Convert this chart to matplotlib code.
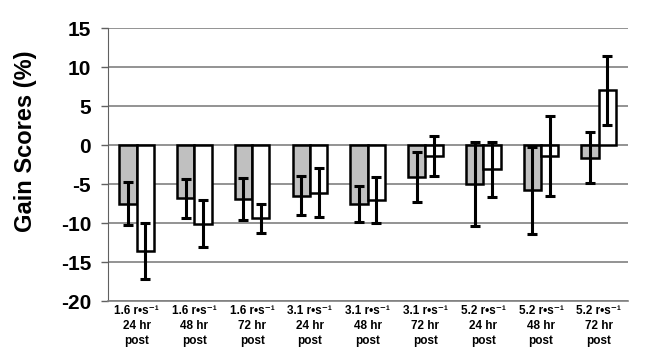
import numpy as np
import matplotlib
matplotlib.use('Agg')
import matplotlib.pyplot as plt

plt.rcParams['font.family'] = ['Liberation Sans', 'DejaVu Sans']
plt.rcParams['axes.unicode_minus'] = False

# Data
speeds = ['1.6', '1.6', '1.6', '3.1', '3.1', '3.1', '5.2', '5.2', '5.2']
times = ['24 hr', '48 hr', '72 hr', '24 hr', '48 hr', '72 hr', '24 hr', '48 hr', '72 hr']
gray_vals = [-7.5, -6.8, -6.9, -6.5, -7.6, -4.1, -5.0, -5.8, -1.6]
gray_err = [2.8, 2.5, 2.65, 2.5, 2.3, 3.25, 5.4, 5.6, 3.3]
white_vals = [-13.6, -10.1, -9.4, -6.1, -7.05, -1.4, -3.1, -1.4, 7.0]
white_err = [3.6, 3.0, 1.9, 3.1, 3.0, 2.6, 3.5, 5.1, 4.4]

labels = [s + ' r•s\u207b\u00b9\n' + t + '\npost' for s, t in zip(speeds, times)]

fig = plt.figure(figsize=(6.49, 3.62), dpi=100)
ax = fig.add_axes([0.166, 0.1685, 0.801, 0.754])

x = np.arange(len(labels))
w = 0.3
ekw = dict(elinewidth=2.2, capsize=3.3, capthick=2.2, ecolor='black')
ax.bar(x - w / 2, gray_vals, w, color='#c0c0c0', edgecolor='black', linewidth=1.8,
       yerr=gray_err, error_kw=ekw, zorder=3)
ax.bar(x + w / 2, white_vals, w, color='white', edgecolor='black', linewidth=1.8,
       yerr=white_err, error_kw=ekw, zorder=3)

ax.set_xlim(-0.5, len(labels) - 0.5)
ax.set_ylim(-20, 15)
ax.set_yticks(range(-20, 16, 5))
ax.yaxis.grid(True, color='#808080', linewidth=1.2, zorder=0)
ax.set_axisbelow(True)

ax.set_xticks(x)
ax.set_xticklabels(labels, fontsize=8.5, fontweight='bold', linespacing=1.3)
ax.tick_params(axis='x', length=0, pad=3)
ax.tick_params(axis='y', labelsize=15, length=5, width=1, color='#606060', pad=7)
for lab in ax.get_yticklabels():
    lab.set_fontweight('bold')

ax.set_ylabel('Gain Scores (%)', fontsize=17, fontweight='bold')
ax.yaxis.set_label_coords(-0.137, 0.586)

for s in ['top', 'right']:
    ax.spines[s].set_visible(False)
ax.spines['left'].set_color('#606060')
ax.spines['bottom'].set_color('#808080')
ax.spines['bottom'].set_linewidth(1.2)

fig.savefig('out.png', dpi=100)
